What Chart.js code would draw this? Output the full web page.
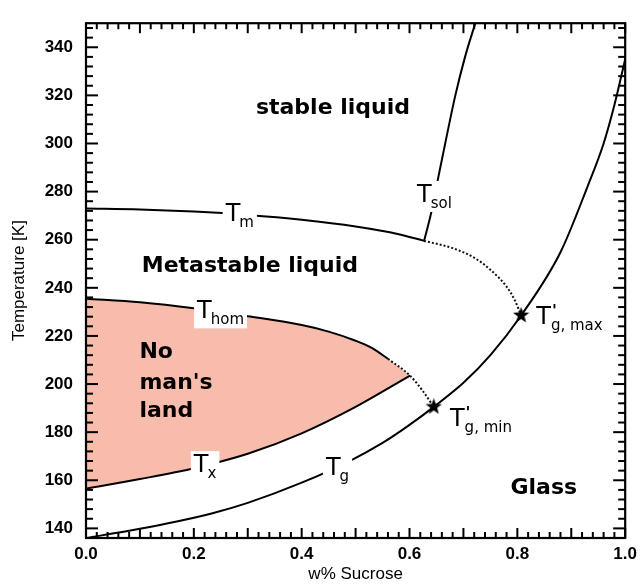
<!DOCTYPE html>
<html>
<head>
<meta charset="utf-8">
<script src="https://cdn.jsdelivr.net/npm/chart.js@4.4.1/dist/chart.umd.min.js"></script>
<style>
    html, body { margin: 0; padding: 0; background: #fff; }
    canvas { display: block; }
</style>
</head>
<body>
<canvas id="phaseChart" width="643" height="586"></canvas>
<script>
/* ── Sucrose / water state diagram ── */

// T_m melting line (solid) and its metastable dotted continuation
const tmX    = [0, 0.1, 0.2, 0.3, 0.4, 0.5, 0.58, 0.627];
const tmT    = [273, 272.6, 271.7, 270.3, 268.3, 265.5, 262.3, 259.5];
const tmDotX = [0.627, 0.68, 0.72, 0.75, 0.78, 0.795, 0.807];
const tmDotT = [259.5, 256.5, 252.5, 247.5, 240.5, 235, 228.5];

// T_sol solubility line
const tsolX = [0.627, 0.64, 0.653, 0.668, 0.685, 0.703, 0.722];
const tsolT = [259.5, 271, 285.5, 302, 320, 336, 350];

// T_hom homogeneous nucleation (solid + dotted end)
const thomX    = [0, 0.1, 0.2, 0.3, 0.4, 0.45, 0.5, 0.53, 0.56];
const thomT    = [235.5, 234, 231.5, 228.2, 224.5, 221.8, 218, 215, 210.5];
const thomDotX = [0.56, 0.601, 0.625, 0.645];
const thomDotT = [210.5, 203.5, 197, 190.5];

// T_x crystallisation on warming
const txX = [0, 0.1, 0.2, 0.3, 0.4, 0.5, 0.601];
const txT = [156.5, 160.5, 165, 171, 179.5, 190.5, 203.5];

// T_g glass transition
const tgX = [0, 0.08, 0.15, 0.233, 0.3, 0.4, 0.489, 0.55, 0.6, 0.645, 0.7, 0.75, 0.807, 0.88, 0.93, 0.96, 0.98, 1.0];
const tgT = [136, 139, 142, 146.2, 150.6, 159, 168, 175.5, 183, 190.5, 200.5, 212, 228.5, 254.8, 282, 300, 316, 335];

// T'g min / max markers
const tgPrimeX = [0.645, 0.807];
const tgPrimeT = [190.5, 228.5];

// axes
const xMin = 0, xMax = 1, xStep = 0.2;
const yMin = 136, yMax = 350, yStep = 20;
const xMinorVals = [0,0.02,0.04,0.06,0.08,0.1,0.12,0.14,0.16,0.18,0.2,0.22,0.24,0.26,0.28,0.3,0.32,0.34,0.36,0.38,0.4,0.42,0.44,0.46,0.48,0.5,0.52,0.54,0.56,0.58,0.6,0.62,0.64,0.66,0.68,0.7,0.72,0.74,0.76,0.78,0.8,0.82,0.84,0.86,0.88,0.9,0.92,0.94,0.96,0.98,1];
const yMinorVals = [140,144,148,152,156,160,164,168,172,176,180,184,188,192,196,200,204,208,212,216,220,224,228,232,236,240,244,248,252,256,260,264,268,272,276,280,284,288,292,296,300,304,308,312,316,320,324,328,332,336,340,344,348];

const pts = (xs, ys) => xs.map((x, i) => ({ x: x, y: ys[i] }));

/* ── "No man's land" polygon: T_hom on top, T_x back along the bottom ── */
const nmlTop = pts(thomX, thomT).concat(pts(thomDotX, thomDotT).filter(p => p.x > 0.56 && p.x <= 0.601));
const nmlPoly = nmlTop.concat(pts(txX, txT).reverse());

/* ── filled 5-point star used as point style ── */
function makeStar(size) {
    const c = document.createElement('canvas');
    c.width = size; c.height = size;
    const g = c.getContext('2d');
    const cx = size / 2, cy = size / 2, R = size / 2, r = R * 0.42;
    g.beginPath();
    for (let i = 0; i < 10; i++) {
        const a = -Math.PI / 2 + i * Math.PI / 5;
        const rr = i % 2 ? r : R;
        g.lineTo(cx + rr * Math.cos(a), cy + rr * Math.sin(a));
    }
    g.closePath();
    g.fillStyle = '#000';
    g.fill();
    return c;
}
const starImg = makeStar(17);

/* ── "T" symbols with sub/superscripts ── */
function drawSym(ctx, px, py, sub, prime, boxed) {
    ctx.textAlign = 'left';
    ctx.textBaseline = 'alphabetic';
    ctx.font = '24px "DejaVu Sans"';
    const tW = ctx.measureText('T').width;
    ctx.font = '15px "DejaVu Sans"';
    const sW = ctx.measureText(sub).width;
    const subX = px + tW + (prime ? 0 : -1);
    if (boxed) {
        ctx.fillStyle = '#fff';
        ctx.fillRect(px - 3, py - 21, subX + sW - px + 6, 31);
    }
    ctx.fillStyle = '#000';
    ctx.font = '24px "DejaVu Sans"';
    ctx.fillText('T', px, py);
    ctx.font = '15px "DejaVu Sans"';
    ctx.fillText(sub, subX, py + 6);
    if (prime) {
        ctx.font = 'bold 16px "DejaVu Sans"';
        ctx.fillText("'", px + tW + 1, py - 8);
    }
}

/* ── labels, inward ticks on all sides and the frame ── */
const decor = {
    id: 'decor',
    afterDatasetsDraw(chart) {
        const ctx = chart.ctx;
        const a = chart.chartArea;
        const xs = chart.scales.x, ys = chart.scales.y;
        const X = v => xs.getPixelForValue(v), Y = v => ys.getPixelForValue(v);
        ctx.save();
        ctx.setLineDash([]);

        drawSym(ctx, X(0.259), Y(267.9), 'm',      false, true);
        drawSym(ctx, X(0.614), Y(275.7), 'sol',    false, true);
        drawSym(ctx, X(0.206), Y(227.3), 'hom',    false, true);
        drawSym(ctx, X(0.200), Y(163.4), 'x',      false, true);
        drawSym(ctx, X(0.445), Y(162.1), 'g',      false, true);
        drawSym(ctx, X(0.835), Y(224.8), 'g, max', true,  false);
        drawSym(ctx, X(0.675), Y(182.6), 'g, min', true,  false);

        ctx.fillStyle = '#000';
        ctx.font = 'bold 22px "DejaVu Sans"';
        ctx.textBaseline = 'alphabetic';
        ctx.textAlign = 'center';
        ctx.fillText('stable liquid',     X(0.458), Y(312.1));
        ctx.fillText('Metastable liquid', X(0.304), Y(246.6));
        ctx.fillText('Glass',             X(0.849), Y(154.3));
        ctx.textAlign = 'left';
        ctx.fillText('No',    X(0.099), Y(210.9));
        ctx.fillText("man's", X(0.099), Y(197.8));
        ctx.fillText('land',  X(0.099), Y(186.3));

        // tick marks pointing into the plot, on all four sides
        ctx.fillStyle = '#000';
        const tw = 2;
        xMinorVals.forEach((v, i) => {
            const px = X(v);
            const len = i % 5 === 0 ? 10 : 6;
            ctx.fillRect(px - tw / 2, a.bottom - len, tw, len);
            ctx.fillRect(px - tw / 2, a.top, tw, len);
        });
        yMinorVals.forEach((v, i) => {
            const py = Y(v);
            const len = i % 5 === 0 ? 12 : 7;
            ctx.fillRect(a.left, py - tw / 2, len, tw);
            ctx.fillRect(a.right - len, py - tw / 2, len, tw);
        });
        ctx.strokeStyle = '#000';
        ctx.lineWidth = 2.2;
        ctx.strokeRect(a.left, a.top, a.right - a.left, a.bottom - a.top);
        ctx.restore();
    }
};

const solid  = { borderColor: '#000', borderWidth: 2, pointRadius: 0, fill: false, cubicInterpolationMode: 'monotone' };
const dotted = { borderColor: '#111', borderWidth: 2, borderDash: [2, 2], pointRadius: 0, fill: false, cubicInterpolationMode: 'monotone' };

new Chart(document.getElementById('phaseChart'), {
    type: 'line',
    data: {
        datasets: [
            { ...solid,  label: 'T_m',       data: pts(tmX, tmT) },
            { ...dotted, label: 'T_m dot',   data: pts(tmDotX, tmDotT) },
            { ...solid,  label: 'T_sol',     data: pts(tsolX, tsolT) },
            { ...solid,  label: 'T_hom',     data: pts(thomX, thomT) },
            { ...dotted, label: 'T_hom dot', data: pts(thomDotX, thomDotT) },
            { ...solid,  label: 'T_x',       data: pts(txX, txT) },
            { ...solid,  label: 'T_g',       data: pts(tgX, tgT) },
            {
                label: "T'g",
                data: pts(tgPrimeX, tgPrimeT),
                showLine: false,
                pointStyle: starImg,
                pointRadius: 8
            },
            {
                label: "No man's land",
                data: nmlPoly,
                borderWidth: 0,
                pointRadius: 0,
                backgroundColor: 'rgb(248,188,172)',
                fill: 'shape',
                tension: 0.3,
                order: 10
            }
        ]
    },
    options: {
        responsive: false,
        animation: false,
        layout: { padding: { top: 14, right: 13, left: 0, bottom: 0 } },
        plugins: { legend: { display: false }, tooltip: { enabled: false } },
        scales: {
            x: {
                type: 'linear',
                min: xMin, max: xMax,
                grid: { display: false, drawTicks: false },
                border: { display: false },
                ticks: {
                    stepSize: xStep,
                    padding: 6,
                    maxRotation: 0,
                    color: '#000',
                    font: { family: '"Liberation Sans", Arial', size: 17, weight: 'bold' },
                    callback: v => v.toFixed(1)
                },
                title: {
                    display: true,
                    text: 'w% Sucrose',
                    color: '#000',
                    font: { family: '"Liberation Sans", Arial', size: 17 },
                    padding: { top: 0, bottom: 1 }
                },
                afterFit: s => { s.height = 48; }
            },
            y: {
                type: 'linear',
                min: yMin, max: yMax,
                grid: { display: false, drawTicks: false },
                border: { display: false },
                ticks: {
                    stepSize: yStep,
                    includeBounds: false,
                    padding: 13,
                    color: '#000',
                    font: { family: '"Liberation Sans", Arial', size: 17, weight: 'bold' }
                },
                title: {
                    display: true,
                    text: 'Temperature [K]',
                    color: '#000',
                    font: { family: '"Liberation Sans", Arial', size: 17 },
                    padding: { top: 9, bottom: 0 }
                },
                afterFit: s => { s.width = 86; }
            }
        }
    },
    plugins: [decor]
});
</script>
</body>
</html>
